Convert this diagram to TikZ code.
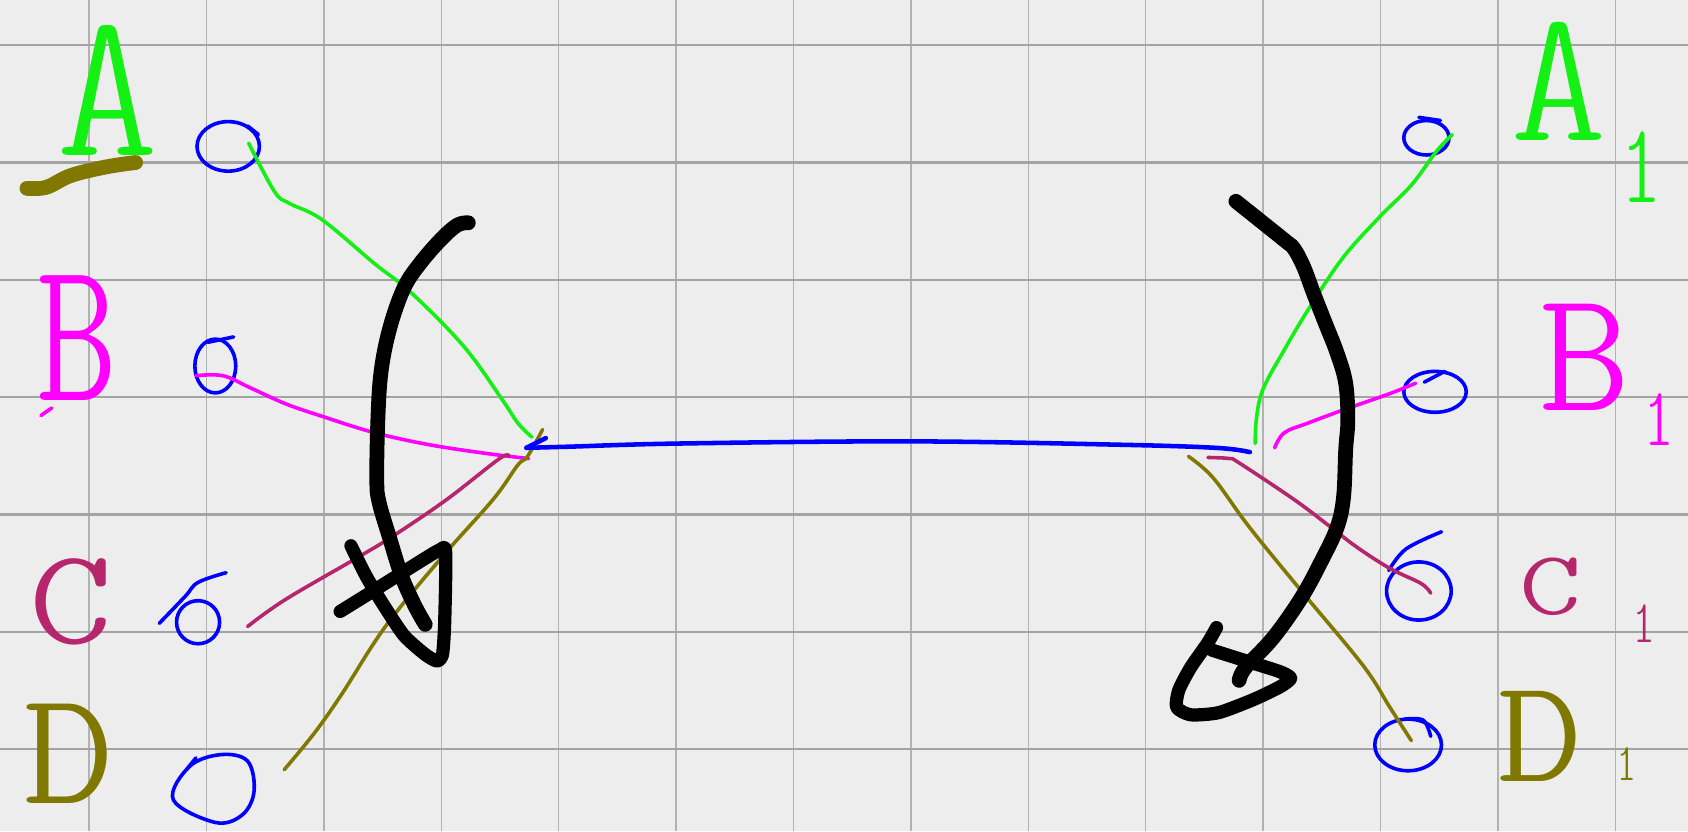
\documentclass[tikz,border=0pt]{standalone}
\usepackage{fontspec}
\newfontfamily\handfont{lmmonoltcond10-regular.otf}
\definecolor{penGreen}{RGB}{20,240,20}
\definecolor{penMagenta}{RGB}{255,0,255}
\definecolor{penMaroon}{RGB}{182,38,108}
\definecolor{penOlive}{RGB}{128,120,0}
\definecolor{penBlue}{RGB}{0,0,255}

\begin{document}
\begin{tikzpicture}[
  pen/.style={line width=0.95pt,line cap=round,line join=round},
  heavy/.style={line width=3.9pt,line cap=round,line join=round},
  ring/.style={pen,penBlue},
  letter/.style={font=\handfont\fontsize{#1}{#1}\selectfont,inner sep=0pt},
  hline/.style={line width=0.65pt,black!36},
  vline/.style={line width=0.4pt,black!30}
]
  % Paper with its grid.
  \fill[black!7] (0,0) rectangle (15.68,7.72);
  \useasboundingbox (0,0) rectangle (15.68,7.72);
  \foreach \k in {0,...,13}
    \draw[vline] ({0.827+1.0906*\k},0) -- ({0.827+1.0906*\k},7.72);
  \foreach \k in {0,...,6}
    \draw[hline] (0,{7.30-1.09*\k}) -- (15.68,{7.30-1.09*\k});

  \coordinate (Lmeet) at (4.89,3.56);
  \coordinate (Rmeet) at (11.61,3.52);

  % Left labels.
  \node[letter=55pt,penGreen] (A) at (1.00,6.88) {\scalebox{1.35}[1]{A}};
  \node[letter=54pt,penMagenta] (B) at (0.71,4.58) {\scalebox{1.1}[1]{B}};
  \node[letter=36pt,penMaroon] (C) at (0.66,2.13) {\scalebox{1.7}[1]{C}};
  \node[letter=43pt,penOlive] (D) at (0.64,0.72) {\scalebox{1.55}[1]{D}};
  \draw[heavy,penOlive]
    plot[smooth,tension=0.6] coordinates {(0.25,5.97) (0.43,5.98) (0.66,6.09) (0.99,6.17) (1.26,6.21)};
  \draw[pen,penMagenta] (0.38,3.86) -- (0.48,3.93);

  % Right labels.
  \node[letter=50pt,penGreen] (A1) at (14.48,6.96) {\scalebox{1.4}[1]{A}};
  \node[letter=30pt,penGreen] (A1sub) at (15.25,6.17) {1};
  \node[letter=46pt,penMagenta] (B1) at (14.72,4.40) {\scalebox{1.45}[1]{B}};
  \node[letter=22pt,penMagenta] (B1sub) at (15.41,3.82) {1};
  \node[letter=24pt,penMaroon] (C1) at (14.40,2.27) {\scalebox{1.9}[1]{C}};
  \node[letter=16pt,penMaroon] (C1sub) at (15.27,1.93) {1};
  \node[letter=39pt,penOlive] (D1) at (14.30,0.88) {\scalebox{1.6}[1]{D}};
  \node[letter=14pt,penOlive] (D1sub) at (15.11,0.62) {1};

  % Small circles, left.
  \draw[ring] (2.12,6.36) ellipse[x radius=0.29,y radius=0.23];
  \draw[ring] (2.30,6.55) -- (2.40,6.47);
  \draw[ring] (2.00,4.32) ellipse[x radius=0.19,y radius=0.25];
  \draw[ring] (1.93,4.54) -- (2.17,4.59);
  \draw[ring] (1.84,1.94) circle (0.20);
  \draw[ring] plot[smooth,tension=0.6] coordinates {(1.48,1.93) (1.72,2.18) (1.84,2.31) (2.10,2.40)};
  \draw[ring] plot[smooth cycle,tension=0.6] coordinates {
    (1.76,0.60) (2.05,0.71) (2.30,0.65) (2.36,0.37) (2.25,0.15) (2.00,0.08) (1.61,0.29)};
  \draw[ring] (1.74,0.58) -- (1.82,0.68);

  % Small circles, right.
  \draw[ring] (13.25,6.44) ellipse[x radius=0.21,y radius=0.16];
  \draw[ring] (13.18,6.63) -- (13.38,6.60);
  \draw[ring] (13.33,4.08) ellipse[x radius=0.29,y radius=0.19];
  \draw[ring] (13.23,4.17) -- (13.42,4.27);
  \draw[ring] (13.18,2.23) ellipse[x radius=0.30,y radius=0.27];
  \draw[ring] plot[smooth,tension=0.6] coordinates {(12.90,2.42) (13.06,2.62) (13.39,2.78)};
  \draw[ring] (13.08,0.80) ellipse[x radius=0.31,y radius=0.24];
  \draw[ring] plot[smooth,tension=0.6] coordinates {(13.05,1.04) (13.22,1.03) (13.29,0.88)};

  % Strands into the left meeting point.
  \draw[pen,penGreen] plot[smooth,tension=0.6] coordinates {
    (2.31,6.39) (2.55,5.94) (2.69,5.83) (2.99,5.68) (3.48,5.27) (3.82,5.00)
    (4.31,4.50) (4.67,4.00) (4.81,3.79) (4.94,3.66)};
  \draw[pen,penMagenta] plot[smooth,tension=0.6] coordinates {
    (1.82,4.23) (2.07,4.23) (2.32,4.12) (2.65,3.97) (3.00,3.85) (3.48,3.70)
    (3.98,3.59) (4.50,3.51) (4.91,3.46)};
  \draw[pen,penMaroon] plot[smooth,tension=0.6] coordinates {
    (2.30,1.90) (2.65,2.15) (3.32,2.54) (3.65,2.74) (4.15,3.08) (4.64,3.46) (4.73,3.48)};
  \draw[pen,penOlive] plot[smooth,tension=0.6] coordinates {
    (2.64,0.57) (2.92,0.91) (3.18,1.28) (3.58,1.90) (4.11,2.55) (4.58,3.08)
    (4.81,3.40) (4.90,3.48) (5.04,3.73)};

  % Strands out of the right meeting point.
  \draw[pen,penGreen] plot[smooth,tension=0.6] coordinates {
    (13.49,6.47) (13.34,6.31) (13.11,6.00) (12.82,5.71) (12.47,5.32) (12.15,4.84)
    (11.93,4.47) (11.73,4.10) (11.67,3.82) (11.66,3.60)};
  \draw[pen,penMagenta] plot[smooth,tension=0.6] coordinates {
    (13.15,4.16) (12.90,4.06) (12.50,3.92) (12.15,3.79) (11.93,3.70) (11.84,3.56)};
  \draw[pen,penMaroon] plot[smooth,tension=0.6] coordinates {
    (11.22,3.47) (11.42,3.46) (11.51,3.42) (12.02,3.08) (12.34,2.84) (12.60,2.64)
    (12.91,2.44) (13.20,2.30) (13.29,2.21)};
  \draw[pen,penOlive] plot[smooth,tension=0.6] coordinates {
    (11.04,3.48) (11.27,3.28) (11.60,2.83) (12.08,2.24) (12.66,1.54) (12.91,1.15) (13.11,0.84)};

  % Blue link between the two meeting points.
  \draw[pen,line width=1.2pt,penBlue] plot[smooth,tension=0.6] coordinates {
    (Lmeet) (5.27,3.57) (6.32,3.60) (8.44,3.62) (10.34,3.59) (11.29,3.56) (Rmeet)};
  \draw[pen,line width=1.2pt,penBlue] (Lmeet) -- (5.07,3.65);

  % Big arrow, left.
  \draw[heavy] plot[smooth,tension=0.6] coordinates {
    (4.35,5.65) (4.25,5.63) (4.10,5.50) (3.90,5.27) (3.75,5.04) (3.62,4.67) (3.54,4.27)
    (3.51,3.82) (3.50,3.27) (3.52,3.06) (3.62,2.72) (3.73,2.37) (3.85,2.10) (3.95,1.92)};
  \draw[heavy,line width=3.5pt] plot[smooth,tension=0.4] coordinates {
    (3.26,2.65) (3.40,2.37) (3.55,2.12) (3.75,1.82) (3.95,1.64) (4.06,1.58) (4.11,1.64)
    (4.13,1.92) (4.14,2.59) (4.08,2.61) (3.80,2.44) (3.45,2.22) (3.16,2.04)};

  % Big arrow, right.
  \draw[heavy] plot[smooth,tension=0.6] coordinates {
    (11.48,5.85) (11.93,5.49) (12.02,5.41) (12.11,5.24) (12.20,5.00) (12.31,4.72) (12.42,4.44)
    (12.50,4.16) (12.52,3.82) (12.50,3.54) (12.48,3.10) (12.42,2.82) (12.28,2.52) (12.09,2.17)
    (11.83,1.80) (11.57,1.52) (11.51,1.40)};
  \draw[heavy,line width=3.5pt] plot[smooth,tension=0.4] coordinates {
    (11.30,1.89) (11.22,1.75) (11.06,1.52) (10.95,1.31) (10.93,1.15) (11.06,1.08) (11.32,1.10)
    (11.64,1.22) (11.89,1.34) (11.99,1.42) (11.89,1.48) (11.64,1.56) (11.26,1.68)};
\end{tikzpicture}
\end{document}
